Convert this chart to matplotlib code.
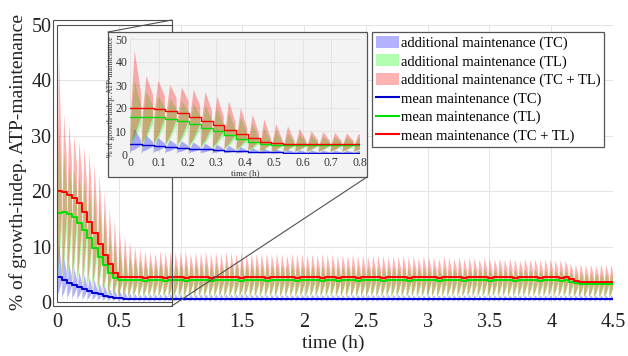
import matplotlib
matplotlib.use("Agg")
import matplotlib.pyplot as plt
import numpy as np
from matplotlib.patches import Rectangle
from matplotlib.lines import Line2D

plt.rcParams['font.family'] = ['Liberation Serif', 'DejaVu Serif']

# ---------------- data ----------------
cycle_period_h = 0.041

red_mean = [20.0, 19.8, 19.4, 18.8, 17.8, 16.2, 14.5, 12.5, 10.5, 8.5, 6.8, 5.3, 4.6, 4.5,
            4.5, 4.5, 4.5, 4.4, 4.5, 4.5, 4.5, 4.4, 4.5, 4.5,
            4.5, 4.4, 4.5, 4.5, 4.5, 4.5, 4.4, 4.5, 4.5, 4.5,
            4.5, 4.5, 4.4, 4.5, 4.5, 4.5, 4.5, 4.4, 4.5, 4.5,
            4.5, 4.5, 4.5, 4.4, 4.5, 4.5, 4.5, 4.5, 4.4, 4.5,
            4.5, 4.4, 4.5, 4.5, 4.5, 4.4, 4.5, 4.5, 4.5, 4.5,
            4.4, 4.5, 4.5, 4.5, 4.5, 4.4, 4.5, 4.5, 4.5, 4.5,
            4.5, 4.4, 4.5, 4.5, 4.5, 4.5, 4.4, 4.5, 4.5, 4.5,
            4.5, 4.4, 4.5, 4.5, 4.5, 4.5, 4.4, 4.5, 4.5, 4.5,
            4.5, 4.4, 4.5, 4.5, 4.5, 4.4, 4.5,
            4.1, 3.8, 3.7, 3.7, 3.7, 3.7, 3.7, 3.7, 3.7]

green_mean = [16.0, 16.2, 15.9, 15.3, 14.3, 13.0, 11.5, 9.8, 8.2, 6.6, 5.2, 4.3, 4.0, 3.9,
              3.9, 3.9, 3.9, 3.8, 3.9, 3.9, 3.9, 3.8, 3.9, 3.9,
              3.9, 3.8, 3.9, 3.9, 3.9, 3.9, 3.8, 3.9, 3.9, 3.9,
              3.9, 3.9, 3.8, 3.9, 3.9, 3.9, 3.9, 3.8, 3.9, 3.9,
              3.9, 3.9, 3.9, 3.8, 3.9, 3.9, 3.9, 3.9, 3.8, 3.9,
              3.9, 3.8, 3.9, 3.9, 3.9, 3.8, 3.9, 3.9, 3.9, 3.9,
              3.8, 3.9, 3.9, 3.9, 3.9, 3.8, 3.9, 3.9, 3.9, 3.9,
              3.9, 3.8, 3.9, 3.9, 3.9, 3.9, 3.8, 3.9, 3.9, 3.9,
              3.9, 3.8, 3.9, 3.9, 3.9, 3.9, 3.8, 3.9, 3.9, 3.9,
              3.9, 3.8, 3.9, 3.9, 3.9, 3.8, 3.9,
              3.6, 3.4, 3.3, 3.3, 3.3, 3.3, 3.3, 3.3, 3.3]

blue_mean = [4.5, 4.0, 3.5, 3.1, 2.7, 2.3, 2.0, 1.7, 1.4, 1.15, 0.95, 0.8, 0.7, 0.62,
             0.56, 0.52, 0.5, 0.5, 0.5, 0.5, 0.5, 0.5, 0.5, 0.5,
             0.5, 0.5, 0.5, 0.5, 0.5, 0.5, 0.5, 0.5, 0.5, 0.5,
             0.5, 0.5, 0.5, 0.5, 0.5, 0.5, 0.5, 0.5, 0.5, 0.5,
             0.5, 0.5, 0.5, 0.5, 0.5, 0.5, 0.5, 0.5, 0.5, 0.5,
             0.5, 0.5, 0.5, 0.5, 0.5, 0.5, 0.5, 0.5, 0.5, 0.5,
             0.5, 0.5, 0.5, 0.5, 0.5, 0.5, 0.5, 0.5, 0.5, 0.5,
             0.5, 0.5, 0.5, 0.5, 0.5, 0.5, 0.5, 0.5, 0.5, 0.5,
             0.5, 0.5, 0.5, 0.5, 0.5, 0.5, 0.5, 0.5, 0.5, 0.5,
             0.5, 0.5, 0.5, 0.5, 0.5, 0.5, 0.5,
             0.5, 0.5, 0.5, 0.5, 0.5, 0.5, 0.5, 0.5, 0.5]

red_peak = [45, 34, 32, 30, 29, 28, 27, 25, 23, 20, 17, 15, 13, 12, 11, 10, 9.5, 9.2, 9.0, 8.8,
            9.2, 8.9, 9.1, 8.8, 9.0, 9.3, 8.8, 9.0, 8.9, 9.2,
            8.8, 9.0, 8.7, 9.1, 8.9, 8.8, 9.0, 8.6, 8.9, 8.8,
            8.7, 8.9, 8.6, 8.8, 8.7, 8.5, 8.8, 8.6, 8.7, 8.5,
            8.6, 8.4, 8.7, 8.5, 8.6, 8.3, 8.5, 8.4, 8.6, 8.3,
            8.4, 8.2, 8.5, 8.3, 8.4, 8.1, 8.3, 8.2, 8.4, 8.1,
            8.2, 8.0, 8.3, 8.1, 8.0, 7.9, 8.2, 8.0, 7.9, 8.1,
            7.8, 8.0, 7.9, 7.7, 8.0, 7.8, 7.7, 7.9, 7.6, 7.8,
            7.7, 7.5, 7.8, 7.6, 7.7, 7.5, 7.7, 7.6, 7.5, 7.6, 7.5,
            7.0, 6.8, 6.9, 6.7, 6.8, 6.6, 6.8, 6.7, 6.7]

green_peak = [32, 27, 25, 24, 23, 22, 21, 20, 18, 16, 13, 11, 10, 9.0, 8.5, 8.0, 7.5, 7.4, 7.2, 7.0,
              7.2, 7.0, 7.1, 6.9, 7.0, 7.2, 6.9, 7.0, 6.9, 7.1,
              6.9, 7.0, 6.8, 7.0, 6.9, 6.8, 7.0, 6.7, 6.9, 6.8,
              6.8, 6.9, 6.7, 6.8, 6.7, 6.6, 6.8, 6.6, 6.7, 6.5,
              6.6, 6.5, 6.7, 6.5, 6.6, 6.4, 6.5, 6.4, 6.6, 6.4,
              6.4, 6.3, 6.5, 6.3, 6.4, 6.2, 6.3, 6.2, 6.4, 6.2,
              6.2, 6.1, 6.3, 6.1, 6.1, 6.0, 6.2, 6.1, 6.0, 6.1,
              6.0, 6.1, 6.0, 5.9, 6.1, 5.9, 5.9, 6.0, 5.8, 5.9,
              5.9, 5.8, 5.9, 5.8, 5.9, 5.7, 5.9, 5.8, 5.7, 5.8, 5.7,
              5.4, 5.2, 5.3, 5.1, 5.2, 5.1, 5.2, 5.1, 5.1]

blue_peak = [11, 8.0, 7.0, 6.0, 5.5, 5.0, 4.5, 4.0, 3.5, 3.0, 2.5, 2.2, 2.0, 1.8, 1.6, 1.5,
             1.4, 1.4, 1.4, 1.4, 1.4, 1.4, 1.4, 1.4, 1.4, 1.4, 1.4, 1.4, 1.4, 1.4,
             1.4, 1.4, 1.4, 1.4, 1.4, 1.4, 1.4, 1.4, 1.4, 1.4, 1.3, 1.3, 1.3, 1.3,
             1.3, 1.3, 1.3, 1.3, 1.3, 1.3, 1.3, 1.3, 1.3, 1.3, 1.3, 1.3, 1.3, 1.3,
             1.3, 1.3, 1.3, 1.3, 1.3, 1.3, 1.3, 1.3, 1.3, 1.3, 1.3, 1.3, 1.2, 1.2,
             1.2, 1.2, 1.2, 1.2, 1.2, 1.2, 1.2, 1.2, 1.2, 1.2, 1.2, 1.2, 1.2, 1.2,
             1.2, 1.2, 1.2, 1.2, 1.2, 1.2, 1.2, 1.2, 1.2, 1.2, 1.2, 1.2, 1.2, 1.2,
             1.2, 1.2, 1.2, 1.2, 1.2, 1.2, 1.2, 1.2, 1.2, 1.2]

labels = ['additional maintenance (TC)', 'additional maintenance (TL)',
          'additional maintenance (TC + TL)', 'mean maintenance (TC)',
          'mean maintenance (TL)', 'mean maintenance (TC + TL)']
main_xticks = [0, 0.5, 1, 1.5, 2, 2.5, 3, 3.5, 4, 4.5]
main_xticklabels = ['0', '0.5', '1', '1.5', '2', '2.5', '3', '3.5', '4', '4.5']
yticks = [0, 10, 20, 30, 40, 50]
inset_xticks = [0, 0.1, 0.2, 0.3, 0.4, 0.5, 0.6, 0.7, 0.8]
inset_xticklabels = ['0', '0.1', '0.2', '0.3', '0.4', '0.5', '0.6', '0.7', '0.8']

# ---------------- build per-cycle band shape ----------------
FR = [0.0, 0.08, 0.40, 0.95, 0.999]


def band(mean, peak):
    n = min(len(mean), len(peak))
    xs, lo, hi = [], [], []
    for k in range(n):
        s = k * cycle_period_h
        m, p = mean[k], peak[k]
        for f, l, h in zip(FR, [0, 0.25 * m, 0.4 * m, 0.8 * m, 0],
                           [0, 0.9 * m, p, 1.3 * m, 0]):
            xs.append(s + f * cycle_period_h)
            lo.append(l)
            hi.append(h)
    return np.array(xs), np.array(lo), np.array(hi)


def steps(mean):
    x = [k * cycle_period_h for k in range(len(mean))] + [len(mean) * cycle_period_h]
    y = list(mean) + [mean[-1]]
    return x, y


series = [
    ('#0000ff', '#0000d0', blue_mean, blue_peak),
    ('#00ff00', '#00e000', green_mean, green_peak),
    ('#ff0000', '#ff0000', red_mean, red_peak),
]

W, H = 628, 356
fig = plt.figure(figsize=(W / 100, H / 100), dpi=100)


def fx(px):
    return px / W


def fy(py):
    return 1 - py / H


def draw(ax, lw):
    for fc, lc, m, p in series:
        x, lo, hi = band(m, p)
        ax.fill_between(x, lo, hi, facecolor=fc, alpha=0.3, linewidth=0)
    for fc, lc, m, p in series:
        x, y = steps(m)
        ax.plot(x, y, color=lc, lw=lw, drawstyle='steps-post')


# ---------------- main axes ----------------
ax = fig.add_axes([fx(57), fy(302), fx(613) - fx(57), fy(25) - fy(302)])
draw(ax, 1.4)
ax.set_xlim(0, 4.5)
ax.set_ylim(0, 50)
ax.set_xticks(main_xticks)
ax.set_xticklabels(main_xticklabels)
ax.set_yticks(yticks)
for s in ax.spines.values():
    s.set_visible(False)
ax.grid(True, color='#e4e4e4', lw=0.7)
ax.set_axisbelow(True)
ax.tick_params(length=0, labelsize=14.5, colors='#222222', pad=8)
ax.tick_params(axis='y', pad=4)
fig.text(fx(18), fy(162), '% of growth-indep. ATP-maintenance', rotation=90,
         ha='center', va='center', fontsize=14, color='#222222')
fig.text(fx(333), fy(343), 'time (h)', ha='center', va='center', fontsize=14, color='#222222')

# zoom rectangles (in main data coordinates)
rx0, rx1 = 0.0, 0.93
ax.add_patch(Rectangle((rx0, 0), rx1 - rx0, 50, fill=False, ec='#505050', lw=0.8, clip_on=False, zorder=5))
ax.add_patch(Rectangle((-0.032, -0.7), rx1 + 0.032, 51.6, fill=False, ec='#505050', lw=0.8, clip_on=False, zorder=5))

# inset frame
frame = Rectangle((fx(108), fy(177)), fx(367) - fx(108), fy(32) - fy(177),
                  transform=fig.transFigure, facecolor='#f3f3f3', edgecolor='#555555', lw=0.9, zorder=10)
fig.patches.append(frame)

# connector lines
p_tr = fig.transFigure.inverted().transform(ax.transData.transform((rx1, 50.9)))
p_br = fig.transFigure.inverted().transform(ax.transData.transform((rx1, -0.7)))
fig.lines.append(Line2D([p_tr[0], fx(108)], [p_tr[1], fy(32)], transform=fig.transFigure,
                        color='#505050', lw=0.8, zorder=11))
fig.lines.append(Line2D([p_br[0], fx(367)], [p_br[1], fy(177)], transform=fig.transFigure,
                        color='#505050', lw=0.8, zorder=11))

# ---------------- inset axes ----------------
axi = fig.add_axes([fx(130), fy(154), fx(360) - fx(130), fy(39) - fy(154)], zorder=12)
axi.set_facecolor('#f3f3f3')
draw(axi, 1.0)
axi.set_xlim(0, 0.8)
axi.set_ylim(0, 50)
axi.set_xticks(inset_xticks)
axi.set_xticklabels(inset_xticklabels)
axi.set_yticks(yticks)
for s in axi.spines.values():
    s.set_visible(False)
axi.grid(True, color='#e2e2e2', lw=0.6)
axi.set_axisbelow(True)
axi.tick_params(length=0, labelsize=8.5, colors='#333333', pad=2)
axi.set_xlabel('time (h)', fontsize=6.5, labelpad=0, color='#333333')
axi.set_ylabel('% of growth-indep. ATP-maintenance', fontsize=5.8, labelpad=0, color='#333333')

# ---------------- legend ----------------
handles = [
    plt.Rectangle((0, 0), 1, 1, facecolor='#0000ff', alpha=0.3, lw=0),
    plt.Rectangle((0, 0), 1, 1, facecolor='#00ff00', alpha=0.3, lw=0),
    plt.Rectangle((0, 0), 1, 1, facecolor='#ff0000', alpha=0.3, lw=0),
    Line2D([], [], color='#0000d0', lw=1.5),
    Line2D([], [], color='#00e000', lw=1.5),
    Line2D([], [], color='#ff0000', lw=1.5),
]
leg = fig.legend(handles, labels, loc='upper left', bbox_to_anchor=(fx(372), fy(32)),
                 bbox_transform=fig.transFigure, fontsize=10.5, frameon=True, fancybox=False,
                 edgecolor='#555555', framealpha=1, borderpad=0.25, labelspacing=0.3,
                 handlelength=1.6, handleheight=0.9, handletextpad=0.12, borderaxespad=0)
leg.get_frame().set_linewidth(0.9)
leg.set_zorder(20)

fig.savefig('out.png', dpi=100)
